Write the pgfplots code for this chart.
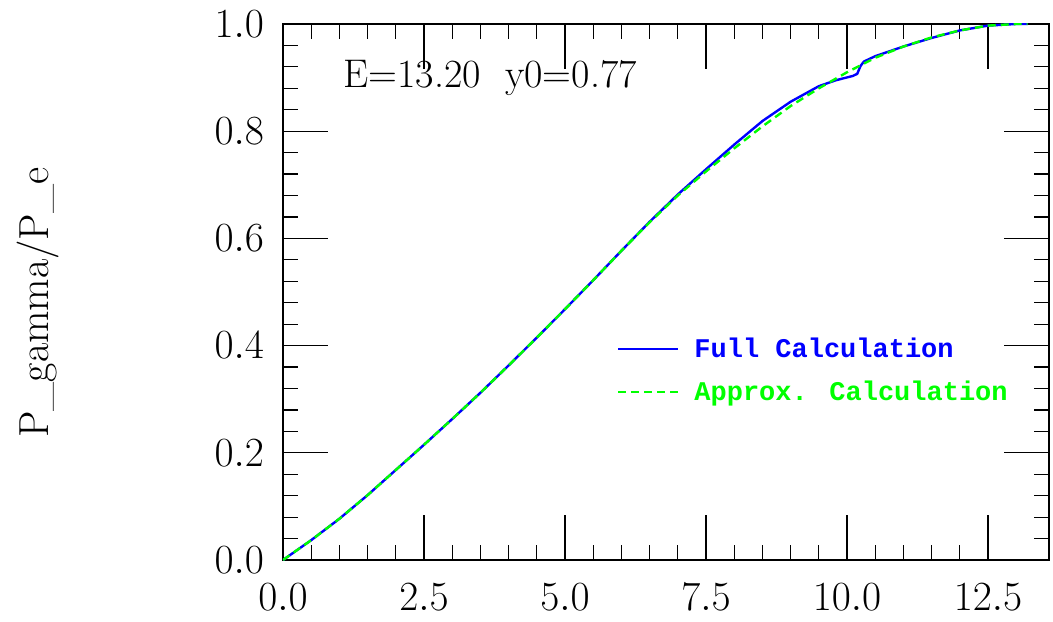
\documentclass[border=0pt]{standalone}
\usepackage{fontspec}
\usepackage{pgfplots}
\pgfplotsset{compat=1.18}
\newfontfamily\legfont{Liberation Mono}
\definecolor{fullblue}{RGB}{0,0,255}
\definecolor{approxgreen}{RGB}{0,255,0}

\begin{document}
\begin{tikzpicture}
\useasboundingbox (-141.5pt,-30.5pt) rectangle (385pt,280pt);
\begin{axis}[
    at={(0,0)}, anchor=south west,
    scale only axis, width=383pt, height=268pt,
    xmin=0, xmax=13.58, ymin=0, ymax=1,
    xtick={0,2.5,5,7.5,10,12.5},
    ytick={0,0.2,0.4,0.6,0.8,1.0},
    minor x tick num=4, minor y tick num=4,
    major tick length=22.5pt, minor tick length=7.5pt,
    axis line style={line width=1pt},
    every tick/.style={black, line width=0.6pt},
    tick label style={font=\fontsize{21}{24}\selectfont},
    xticklabel style={yshift=-8.5pt},
    yticklabel style={xshift=-6pt},
    /pgf/number format/.cd, fixed, fixed zerofill, precision=1,
    /pgfplots/.cd,
    ylabel={P\_gamma/P\_e},
    y label style={at={(axis description cs:-0.32,0.48)}, anchor=center,
        font=\fontsize{21}{24}\selectfont},
    legend style={at={(rel axis cs:0.428,0.43)}, anchor=north west,
        draw=none, fill=none, row sep=6pt,
        font=\legfont\bfseries\fontsize{13.5}{16}\selectfont},
    legend cell align=left,
    legend image code/.code={\draw[#1] (0pt,0pt) -- (30pt,0pt);
        \path[draw=none] (0pt,0pt) -- (36pt,0pt);},
]
% full calculation
\addplot[fullblue, line width=1.2pt] coordinates {
    (0,0) (0.5,0.037) (1.0,0.077) (1.5,0.121) (2.0,0.168) (2.5,0.215)
    (3.0,0.263) (3.5,0.312) (4.0,0.363) (4.5,0.415) (5.0,0.468)
    (5.5,0.522) (6.0,0.577) (6.5,0.631) (7.0,0.682) (7.5,0.729)
    (8.0,0.775) (8.5,0.819) (9.0,0.855) (9.5,0.884) (9.8,0.895)
    (10.1,0.903) (10.18,0.907) (10.24,0.922) (10.3,0.930) (10.5,0.940)
    (11.0,0.958) (11.5,0.974) (12.0,0.988) (12.5,0.997) (13.0,1.0) (13.2,1.0)
};
\addlegendentry{\textcolor{fullblue}{Full Calculation}}
% approximate calculation
\addplot[approxgreen, line width=1.2pt, dash pattern=on 4pt off 2.5pt] coordinates {
    (0,0) (0.5,0.037) (1.0,0.077) (1.5,0.121) (2.0,0.168) (2.5,0.215)
    (3.0,0.263) (3.5,0.312) (4.0,0.363) (4.5,0.415) (5.0,0.468)
    (5.5,0.522) (6.0,0.577) (6.5,0.630) (7.0,0.680) (7.5,0.725)
    (8.0,0.768) (8.5,0.809) (9.0,0.847) (9.5,0.880) (10.0,0.910)
    (10.5,0.937) (11.0,0.958) (11.5,0.975) (12.0,0.988) (12.5,0.997)
    (13.0,1.0) (13.2,1.0)
};
\addlegendentry{\textcolor{approxgreen}{Approx. Calculation}}
\node[anchor=west, font=\fontsize{20}{24}\selectfont]
    at (rel axis cs:0.07,0.899) {E=13.20\ \ y0=0.77};
\end{axis}
\end{tikzpicture}
\end{document}
